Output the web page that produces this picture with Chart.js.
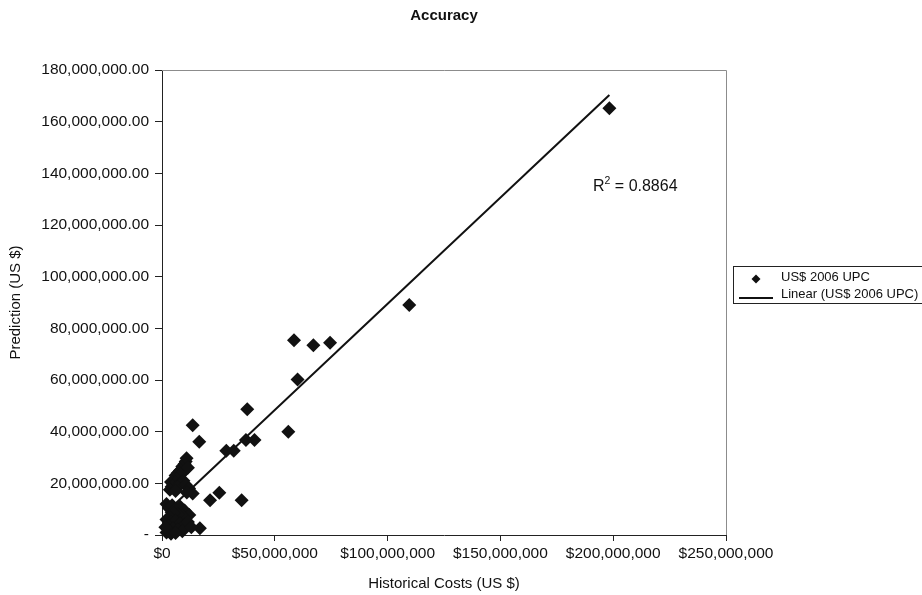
<!DOCTYPE html>
<html>
<head>
<meta charset="utf-8">
<script src="https://cdn.jsdelivr.net/npm/chart.js@4/dist/chart.umd.min.js"></script>
<style>
  html, body { margin: 0; padding: 0; background: #fff; }
  #wrap { width: 922px; height: 595px; position: relative; }
</style>
</head>
<body>
<div id="wrap"><canvas id="c" width="922" height="595"></canvas></div>
<script>
// Historical costs (US $, millions) and predictions (US $, millions)
const historicalM = [
  3.5, 4.3, 4.0, 5.0, 5.5, 6.0, 6.5, 7.0, 7.5, 8.0, 8.5, 9.0, 9.4, 10.0, 10.5, 10.9, 11.5, 8.0, 9.5, 7.0, 10.5, 12.0, 13.6, 11.0, 6.0,
  2.0, 3.0, 4.5, 6.0, 8.0, 10.0, 12.1, 9.0, 7.0, 5.0, 3.5, 2.0, 4.0, 6.0, 8.0, 10.0, 11.5, 3.0, 5.0, 7.0, 9.0, 2.0, 4.0, 6.0, 1.5, 16.8, 13.0,
  13.6, 16.5, 21.3, 25.4, 28.5, 31.8, 35.3, 37.2, 41.0, 37.8, 56.0, 58.5, 67.1, 74.5, 60.1, 109.6, 198.3
];
const predictionM = [
  17.5, 18.7, 20.5, 19.5, 21.5, 23.0, 20.5, 24.0, 22.0, 25.0, 23.5, 26.5, 24.5, 27.5, 28.5, 29.7, 26.0, 20.0, 21.0, 18.5, 19.5, 18.0, 16.1, 16.5, 17.0,
  12.0, 10.5, 11.5, 10.0, 11.0, 9.5, 7.7, 7.5, 8.0, 8.5, 7.0, 6.0, 5.0, 5.5, 4.5, 4.0, 5.0, 3.5, 2.5, 2.0, 1.5, 1.0, 0.5, 0.8, 3.0, 2.6, 3.0,
  42.5, 36.1, 13.5, 16.4, 32.6, 32.6, 13.5, 36.8, 36.8, 48.7, 40.0, 75.4, 73.5, 74.4, 60.2, 89.0, 165.2
];
// Linear trendline: prediction = slope * cost + intercept
const trendSlope = 0.822;
const trendInterceptM = 7.3;
const xTicks = [0, 50e6, 100e6, 150e6, 200e6, 250e6];
const yTicks = [0, 20e6, 40e6, 60e6, 80e6, 100e6, 120e6, 140e6, 160e6, 180e6];
const seriesName = 'US$ 2006 UPC';
const trendName = 'Linear (US$ 2006 UPC)';
const r2Text = '0.8864';

const points = historicalM.map((x, i) => ({ x: x * 1e6, y: predictionM[i] * 1e6 }));
const xMin = Math.min(...points.map(p => p.x));
const xMax = Math.max(...points.map(p => p.x));
const trend = [xMin, xMax].map(x => ({ x, y: trendSlope * x + trendInterceptM * 1e6 }));

const FONT = "'Liberation Sans', Arial, sans-serif";

const framePlugin = {
  id: 'frame',
  beforeDatasetsDraw(chart) {
    const { ctx, chartArea: a } = chart;
    ctx.save();
    ctx.strokeStyle = '#8c8c8c';
    ctx.lineWidth = 1;
    ctx.beginPath();
    ctx.moveTo(a.left, a.top + 0.5);
    ctx.lineTo(a.right + 0.5, a.top + 0.5);
    ctx.lineTo(a.right + 0.5, a.bottom);
    ctx.stroke();
    ctx.restore();
  },
  afterDraw(chart) {
    const ctx = chart.ctx;
    ctx.save();
    // R² annotation
    ctx.fillStyle = '#111';
    ctx.textBaseline = 'alphabetic';
    ctx.font = "16px " + FONT;
    let x = 593, y = 191;
    ctx.fillText('R', x, y);
    x += ctx.measureText('R').width;
    ctx.font = "10.5px " + FONT;
    ctx.fillText('2', x, y - 7);
    x += ctx.measureText('2').width;
    ctx.font = "16px " + FONT;
    ctx.fillText(' = ' + r2Text, x, y);

    // legend
    ctx.strokeStyle = '#222';
    ctx.lineWidth = 1;
    ctx.strokeRect(733.5, 266.5, 200, 37);
    ctx.fillStyle = '#111';
    ctx.beginPath();
    const mx = 756, my = 279, r = 4.5;
    ctx.moveTo(mx - r, my); ctx.lineTo(mx, my - r); ctx.lineTo(mx + r, my); ctx.lineTo(mx, my + r);
    ctx.closePath(); ctx.fill();
    ctx.strokeStyle = '#111';
    ctx.lineWidth = 2;
    ctx.beginPath();
    ctx.moveTo(739, 298); ctx.lineTo(773, 298);
    ctx.stroke();
    ctx.font = "13px " + FONT;
    ctx.textBaseline = 'middle';
    ctx.fillText(seriesName, 781, 277);
    ctx.fillText(trendName, 781, 294);
    ctx.restore();
  }
};

new Chart(document.getElementById('c'), {
  data: {
    datasets: [
      {
        type: 'line',
        label: trendName,
        data: trend,
        borderColor: '#111',
        borderWidth: 2,
        pointRadius: 0,
        fill: false,
        order: 0
      },
      {
        type: 'scatter',
        label: seriesName,
        data: points,
        pointStyle: 'rectRot',
        radius: 7,
        backgroundColor: '#111',
        borderWidth: 0,
        clip: false,
        order: 1
      }
    ]
  },
  options: {
    responsive: false,
    animation: false,
    devicePixelRatio: 1,
    layout: { padding: { left: 0, right: 196, top: 0, bottom: 0 } },
    plugins: {
      legend: { display: false },
      tooltip: { enabled: false },
      title: {
        display: true,
        text: 'Accuracy',
        fullSize: false,
        color: '#111',
        font: { family: FONT, size: 15, weight: 'bold' },
        padding: { top: 7, bottom: 45 }
      }
    },
    scales: {
      x: {
        type: 'linear',
        min: 0, max: 250e6,
        afterBuildTicks: s => { s.ticks = xTicks.map(v => ({ value: v })); },
        afterFit: s => { s.height = 60; },
        border: { display: true, color: '#222', width: 1 },
        grid: { display: true, drawOnChartArea: false, drawTicks: true, tickLength: 6, color: '#222' },
        ticks: {
          color: '#111',
          padding: 3,
          maxRotation: 0,
          font: { family: FONT, size: 15.5 },
          callback: v => '$' + Number(v).toLocaleString('en-US')
        },
        title: {
          display: true,
          text: 'Historical Costs (US $)',
          color: '#111',
          font: { family: FONT, size: 15 },
          padding: { top: 0, bottom: 2 }
        }
      },
      y: {
        type: 'linear',
        min: 0, max: 180e6,
        afterBuildTicks: s => { s.ticks = yTicks.map(v => ({ value: v })); },
        afterFit: s => { s.width = 162; },
        border: { display: true, color: '#222', width: 1 },
        grid: { display: true, drawOnChartArea: false, drawTicks: true, tickLength: 7, color: '#222' },
        ticks: {
          color: '#111',
          padding: 6,
          font: { family: FONT, size: 15.5 },
          callback: v => v === 0 ? '-' : Number(v).toLocaleString('en-US', { minimumFractionDigits: 2, maximumFractionDigits: 2 })
        },
        title: {
          display: true,
          text: 'Prediction (US $)',
          color: '#111',
          font: { family: FONT, size: 15 },
          padding: { top: 7, bottom: 0 }
        }
      }
    }
  },
  plugins: [framePlugin]
});
</script>
</body>
</html>
